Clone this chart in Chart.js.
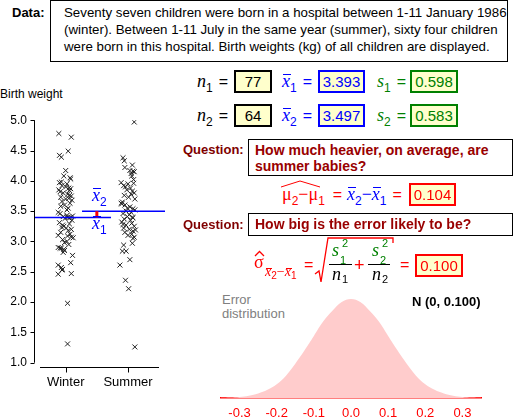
<!DOCTYPE html>
<html>
<head>
<meta charset="utf-8">
<script src="https://cdn.jsdelivr.net/npm/chart.js"></script>
<style>
  body { margin: 0; width: 514px; height: 417px; overflow: hidden; background: #fff;
         font-family: 'Liberation Sans', Arial, sans-serif; position: relative; }
  .abs { position: absolute; white-space: nowrap; }
  canvas { position: absolute; }
  .dataLabel { left: 12px; top: 5px; font-weight: bold; font-size: 13px; }
  .dataBox { left: 50px; top: 0px; width: 458px; height: 62px; box-sizing: border-box;
             border: 1px solid #000; padding: 3px 0 0 13px; font-size: 13.3px; line-height: 17px; }
  .box { position: absolute; height: 23px; box-sizing: border-box; border: 2px solid #000;
         background: #ffffcc; text-align: center; font-size: 15px; line-height: 19px; }
  .m { position: absolute; white-space: nowrap; font: italic 18px 'Liberation Serif', serif; line-height: 23px; }
  .m sub { font: 12px 'Liberation Sans', sans-serif; vertical-align: -5px; }
  .eq { font: 16px 'Liberation Sans', sans-serif; margin-left: 6px; }
  .ov { position: relative; display: inline-block; }
  .ov::before { content: ''; position: absolute; left: 1px; right: -1px; top: var(--t, 4px); border-top: 1.5px solid currentColor; }
  .g { position: absolute; white-space: nowrap; height: 20px; font: 18px/20px 'Liberation Serif', serif; }
  .g sub { font: 10px 'Liberation Sans', sans-serif; vertical-align: -3px; }
  .it { font-style: italic; }
  .sm { font: 11px/20px 'Liberation Sans', sans-serif; }
  .op { font: 16px/20px 'Liberation Sans', sans-serif; color: #ff0000; }
  .q { position: absolute; font-weight: bold; font-size: 13px; color: #800000; }
  .qbox { position: absolute; left: 248px; width: 265px; box-sizing: border-box; border: 1.5px solid #000;
          padding-left: 6px; font-weight: bold; font-size: 14px; line-height: 16px; color: #990000; }
</style>
</head>
<body>
<div class="abs dataLabel">Data:</div>
<div class="abs dataBox">Seventy seven children were born in a hospital between 1-11 January 1986<br>(winter). Between 1-11 July in the same year (summer), sixty four children<br>were born in this hospital. Birth weights (kg) of all children are displayed.</div>

<div class="abs" style="left:0;top:87px;font-size:12px;">Birth weight</div>
<canvas id="weightChart" width="180" height="300" style="left:0;top:100px;"></canvas>
<div class="m" style="left:92px;top:184px;color:#0000ff;"><span class="ov">x</span><sub>2</sub></div>
<div class="m" style="left:92px;top:212px;color:#0000ff;"><span class="ov">x</span><sub>1</sub></div>

<!-- summary statistics -->
<div class="m" style="left:197px;top:70px;"><span>n</span><sub>1</sub><span class="eq">=</span></div>
<div class="box" id="n1" style="left:234px;top:70px;width:38px;"></div>
<div class="m" style="left:282px;top:70px;color:#0000ff;"><span class="ov">x</span><sub>1</sub><span class="eq">=</span></div>
<div class="box" id="m1" style="left:318px;top:70px;width:47px;border-color:#0000ff;color:#0000ff;"></div>
<div class="m" style="left:377px;top:70px;color:#008000;"><span>s</span><sub>1</sub><span class="eq">=</span></div>
<div class="box" id="s1" style="left:410px;top:70px;width:48px;border-color:#008000;color:#008000;"></div>

<div class="m" style="left:197px;top:104px;"><span>n</span><sub>2</sub><span class="eq">=</span></div>
<div class="box" id="n2" style="left:234px;top:104px;width:38px;"></div>
<div class="m" style="left:282px;top:104px;color:#0000ff;"><span class="ov">x</span><sub>2</sub><span class="eq">=</span></div>
<div class="box" id="m2" style="left:318px;top:104px;width:47px;border-color:#0000ff;color:#0000ff;"></div>
<div class="m" style="left:377px;top:104px;color:#008000;"><span>s</span><sub>2</sub><span class="eq">=</span></div>
<div class="box" id="s2" style="left:410px;top:104px;width:48px;border-color:#008000;color:#008000;"></div>

<div class="q" style="left:183px;top:142px;">Question:</div>
<div class="qbox" style="top:139px;height:37px;padding-top:2px;">How much heavier, on average, are<br>summer babies?</div>

<svg class="abs" style="left:280px;top:179px;" width="42" height="9"><polyline points="1,8 20,2 40,8" fill="none" stroke="#ff0000" stroke-width="1"/></svg>
<div class="m" style="left:282px;top:183px;color:#ff0000;font-style:normal;">μ<sub>2</sub>−μ<sub>1</sub><span class="eq" style="margin-left:8px;">=</span></div>
<div class="m" style="left:347px;top:183px;color:#0000ff;"><span class="ov">x</span><sub>2</sub><span style="font-style:normal">−</span><span class="ov">x</span><sub>1</sub><span class="eq" style="color:#ff0000;">=</span></div>
<div class="box" id="diff" style="left:409px;top:183px;width:47px;border-color:#ff0000;color:#ff0000;"></div>

<div class="q" style="left:183px;top:217px;">Question:</div>
<div class="qbox" style="top:213px;height:23px;line-height:20px;">How big is the error likely to be?</div>

<!-- standard error formula -->
<svg class="abs" style="left:254px;top:250px;" width="11" height="7"><polyline points="1,6 5.5,1.5 10,6" fill="none" stroke="#ff0000" stroke-width="1.3"/></svg>
<div class="g" style="left:254px;top:252px;color:#ff0000;">σ</div>
<div class="g" style="left:265px;top:262px;color:#ff0000;font-size:14px;"><span class="ov it" style="--t:6px">x</span><sub>2</sub>−<span class="ov it" style="--t:6px">x</span><sub>1</sub></div>
<div class="g op" style="left:304px;top:255px;">=</div>
<svg class="abs" style="left:312px;top:235px;" width="84" height="50"><polyline points="3,39 7,36 9,47 16,3 81,3 81,8" fill="none" stroke="#ff0000" stroke-width="1.3"/><line x1="17" y1="29.5" x2="40" y2="29.5" stroke="#000" stroke-width="1"/><line x1="56" y1="29.5" x2="78" y2="29.5" stroke="#000" stroke-width="1"/></svg>
<div class="g it" style="left:332px;top:240px;color:#008000;">s</div>
<div class="g sm" style="left:340px;top:250px;color:#008000;">1</div>
<div class="g sm" style="left:342px;top:233px;color:#008000;">2</div>
<div class="g it" style="left:332px;top:264px;">n</div>
<div class="g sm" style="left:342px;top:269px;">1</div>
<div class="g op" style="left:354px;top:255px;font-size:18px;">+</div>
<div class="g it" style="left:372px;top:240px;color:#008000;">s</div>
<div class="g sm" style="left:380px;top:250px;color:#008000;">2</div>
<div class="g sm" style="left:382px;top:233px;color:#008000;">2</div>
<div class="g it" style="left:372px;top:264px;">n</div>
<div class="g sm" style="left:382px;top:269px;">2</div>
<div class="g op" style="left:400px;top:255px;">=</div>
<div class="box" id="se" style="left:415px;top:254px;width:48px;border-color:#ff0000;color:#ff0000;"></div>

<div class="abs" style="left:222px;top:293px;font-size:13px;line-height:13.5px;color:#808080;">Error<br>distribution</div>
<div class="abs" id="distLabel" style="left:412px;top:294px;font-size:13px;font-weight:bold;"></div>
<canvas id="errorChart" width="280" height="132" style="left:211px;top:285px;"></canvas>

<script>
// groups
const categories = ['Winter', 'Summer'];
const weightTicks = [1.0, 1.5, 2.0, 2.5, 3.0, 3.5, 4.0, 4.5, 5.0];

// birth weights (kg)
const winterWeights = [4.78, 4.72, 4.49, 4.42, 4.39, 4.17, 4.08, 4.05, 4.03, 3.97,
    3.95, 3.92, 3.88, 3.87, 3.85, 3.84, 3.80, 3.78, 3.75, 3.73,
    3.71, 3.70, 3.66, 3.63, 3.60, 3.55, 3.48, 3.46, 3.43, 3.41,
    3.40, 3.40, 3.39, 3.38, 3.35, 3.31, 3.29, 3.27, 3.25, 3.23,
    3.22, 3.20, 3.18, 3.15, 3.12, 3.10, 3.09, 3.07, 3.06, 3.03,
    3.00, 2.98, 2.95, 2.90, 2.89, 2.89, 2.87, 2.85, 2.82, 2.77,
    2.65, 2.61, 2.57, 2.54, 2.53, 2.47, 2.46, 1.98, 1.31,
    3.98, 3.90, 3.82, 3.76, 3.68, 3.58, 3.52, 3.42];
// sideways jitter of each cross (category units)
const winterJitter = [-0.11, 0.09, 0.04, -0.10, -0.07, 0.00, -0.03, 0.07, 0.08, -0.10,
    0.02, -0.06, 0.05, 0.08, -0.11, 0.06, -0.04, 0.03, 0.09, -0.08,
    0.05, 0.00, -0.06, 0.07, -0.02, 0.04, -0.12, -0.09, 0.02, -0.04,
    0.03, 0.08, 0.05, -0.01, 0.10, -0.10, 0.06, -0.05, -0.03, -0.06,
    0.01, 0.09, 0.04, -0.08, 0.07, -0.12, 0.03, 0.09, 0.12, -0.05,
    0.02, -0.02, 0.05, -0.12, -0.09, -0.07, -0.03, -0.02, -0.04, 0.11,
    0.08, -0.12, -0.07, -0.05, -0.06, 0.09, -0.12, 0.03, 0.03,
    -0.07, 0.00, -0.09, 0.06, 0.10, -0.08, 0.02, 0.11];

const summerWeights = [4.97, 4.38, 4.33, 4.26, 4.22, 4.17, 4.16, 4.15, 4.12, 4.08,
    3.97, 3.95, 3.96, 3.92, 3.88, 3.85, 3.83, 3.80, 3.76, 3.73,
    3.70, 3.65, 3.63, 3.60, 3.57, 3.54, 3.52, 3.50, 3.48, 3.46,
    3.44, 3.41, 3.39, 3.37, 3.35, 3.32, 3.30, 3.27, 3.25, 3.22,
    3.20, 3.19, 3.17, 3.15, 3.12, 3.10, 3.07, 3.05, 2.97, 2.94,
    2.84, 2.84, 2.70, 2.61, 2.36, 2.22, 1.26,
    4.02, 3.90, 3.78, 3.62, 3.55, 3.40, 3.28];
const summerJitter = [0.10, -0.08, -0.06, 0.07, -0.05, 0.03, 0.08, 0.10, 0.05, 0.06,
    -0.11, 0.00, 0.09, -0.07, 0.04, -0.02, 0.07, 0.10, -0.06, 0.01,
    0.11, -0.09, -0.11, -0.05, 0.03, 0.08, 0.11, -0.03, 0.05, -0.08,
    0.02, -0.01, 0.08, -0.06, 0.04, -0.10, 0.06, -0.03, 0.10, -0.07,
    0.02, 0.12, 0.08, -0.05, 0.06, 0.00, 0.10, 0.08, 0.07, -0.07,
    -0.09, -0.03, 0.03, -0.13, -0.04, 0.01, 0.11,
    0.09, -0.04, 0.05, -0.10, -0.01, 0.07, -0.08];

// summary statistics shown in the boxes
const sampleSizes = [77, 64];
const sampleMeans = [3.393, 3.497];
const sampleSDs = [0.598, 0.583];
const meanDiff = 0.104;
const diffSE = 0.100;

// error distribution, heights
const errorX = [-0.35, -0.325, -0.3, -0.275, -0.25, -0.225, -0.2, -0.175, -0.15, -0.125,
    -0.1, -0.075, -0.05, -0.025, 0, 0.025, 0.05, 0.075, 0.1, 0.125,
    0.15, 0.175, 0.2, 0.225, 0.25, 0.275, 0.3, 0.325, 0.35];
const errorDensity = [0.01, 0.02, 0.045, 0.09, 0.18, 0.33, 0.55, 0.9, 1.38, 1.92,
    2.5, 3.08, 3.52, 3.87, 3.99, 3.87, 3.52, 3.08, 2.5, 1.92,
    1.38, 0.9, 0.55, 0.33, 0.18, 0.09, 0.045, 0.02, 0.01];
const errorTicks = [-0.3, -0.2, -0.1, 0.0, 0.1, 0.2, 0.3];

document.getElementById('n1').textContent = sampleSizes[0];
document.getElementById('n2').textContent = sampleSizes[1];
document.getElementById('m1').textContent = sampleMeans[0].toFixed(3);
document.getElementById('m2').textContent = sampleMeans[1].toFixed(3);
document.getElementById('s1').textContent = sampleSDs[0].toFixed(3);
document.getElementById('s2').textContent = sampleSDs[1].toFixed(3);
document.getElementById('diff').textContent = meanDiff.toFixed(3);
document.getElementById('se').textContent = diffSE.toFixed(3);
document.getElementById('distLabel').textContent = 'N (0, ' + diffSE.toFixed(3) + ')';

Chart.defaults.font.family = "'Liberation Sans', Arial, sans-serif";
Chart.defaults.color = '#000';

// axes drawn detached from each other, like the original
const offsetAxes = {
    id: 'offsetAxes',
    afterDraw(chart) {
        const { ctx, chartArea, scales: { x, y } } = chart;
        ctx.save();
        ctx.strokeStyle = '#000';
        ctx.lineWidth = 1;
        ctx.beginPath();
        const ax = Math.round(chartArea.left - 6) + 0.5;
        ctx.moveTo(ax, y.getPixelForValue(weightTicks[weightTicks.length - 1]));
        ctx.lineTo(ax, y.getPixelForValue(weightTicks[0]));
        weightTicks.forEach(v => {
            const py = Math.round(y.getPixelForValue(v)) + 0.5;
            ctx.moveTo(ax - 4, py);
            ctx.lineTo(ax, py);
        });
        const ay = Math.round(chartArea.bottom + 4) + 0.5;
        ctx.moveTo(chartArea.left, ay);
        ctx.lineTo(chartArea.right, ay);
        categories.forEach((c, i) => {
            const px = Math.round(x.getPixelForValue(i + 1)) + 0.5;
            ctx.moveTo(px, ay);
            ctx.lineTo(px, ay + 5);
        });
        ctx.stroke();
        ctx.restore();
    }
};

const crossStyle = { pointStyle: 'crossRot', radius: 3.5, borderColor: '#222', borderWidth: 1, order: 2 };

new Chart(document.getElementById('weightChart'), {
    type: 'scatter',
    data: {
        datasets: [
            { ...crossStyle, data: winterWeights.map((w, i) => ({ x: 1 + winterJitter[i], y: w })) },
            { ...crossStyle, data: summerWeights.map((w, i) => ({ x: 2 + summerJitter[i], y: w })) },
            {
                type: 'line', order: 1, clip: false, pointRadius: 0, borderColor: '#0000ff', borderWidth: 1.5,
                data: [{ x: 0.507, y: sampleMeans[0] }, { x: 1.727, y: sampleMeans[0] }]
            },
            {
                type: 'line', order: 1, clip: false, pointRadius: 0, borderColor: '#0000ff', borderWidth: 1.5,
                data: [{ x: 1.262, y: sampleMeans[1] }, { x: 2.594, y: sampleMeans[1] }]
            },
            {
                type: 'line', order: 0, pointRadius: 0, borderColor: '#ff0000', borderWidth: 3, borderCapStyle: 'butt',
                data: [{ x: 1.5, y: sampleMeans[0] }, { x: 1.5, y: sampleMeans[1] }]
            }
        ]
    },
    options: {
        responsive: false,
        animation: false,
        layout: { padding: { top: 12.3, right: 21, left: 0, bottom: 0 } },
        plugins: { legend: { display: false }, tooltip: { enabled: false } },
        scales: {
            x: {
                type: 'linear', min: 0.5875, max: 2.4976,
                afterBuildTicks: s => { s.ticks = categories.map((c, i) => ({ value: i + 1 })); },
                afterFit: s => { s.height = 37.3; },
                ticks: { callback: v => categories[v - 1], font: { size: 13 }, padding: 12 },
                grid: { display: false, drawTicks: false },
                border: { display: false }
            },
            y: {
                min: 1, max: 5,
                afterBuildTicks: s => { s.ticks = weightTicks.map(v => ({ value: v })); },
                afterFit: s => { s.width = 40; },
                ticks: { callback: v => v.toFixed(1), font: { size: 12 }, padding: 13 },
                grid: { display: false, drawTicks: false },
                border: { display: false }
            }
        }
    },
    plugins: [offsetAxes]
});

new Chart(document.getElementById('errorChart'), {
    type: 'line',
    data: {
        datasets: [{
            data: errorX.map((x, i) => ({ x: x, y: errorDensity[i] })),
            fill: 'origin',
            backgroundColor: '#ffcccc',
            borderWidth: 0,
            borderColor: 'rgba(0,0,0,0)',
            pointRadius: 0,
            tension: 0.4
        }]
    },
    options: {
        responsive: false,
        animation: false,
        layout: { padding: { top: 8.8, left: 10, right: 10, bottom: 0 } },
        plugins: { legend: { display: false }, tooltip: { enabled: false } },
        scales: {
            x: {
                type: 'linear', min: -0.35, max: 0.35,
                afterBuildTicks: s => { s.ticks = errorTicks.map(v => ({ value: v })); },
                afterFit: s => { s.height = 19; },
                ticks: { callback: v => v.toFixed(1), color: '#ff0000', font: { size: 13 }, padding: 8 },
                grid: { display: false, drawTicks: false },
                border: { display: true, color: '#ff0000', width: 1.5 }
            },
            y: { display: false, min: 0, max: 4.2 }
        }
    }
});
</script>
</body>
</html>
